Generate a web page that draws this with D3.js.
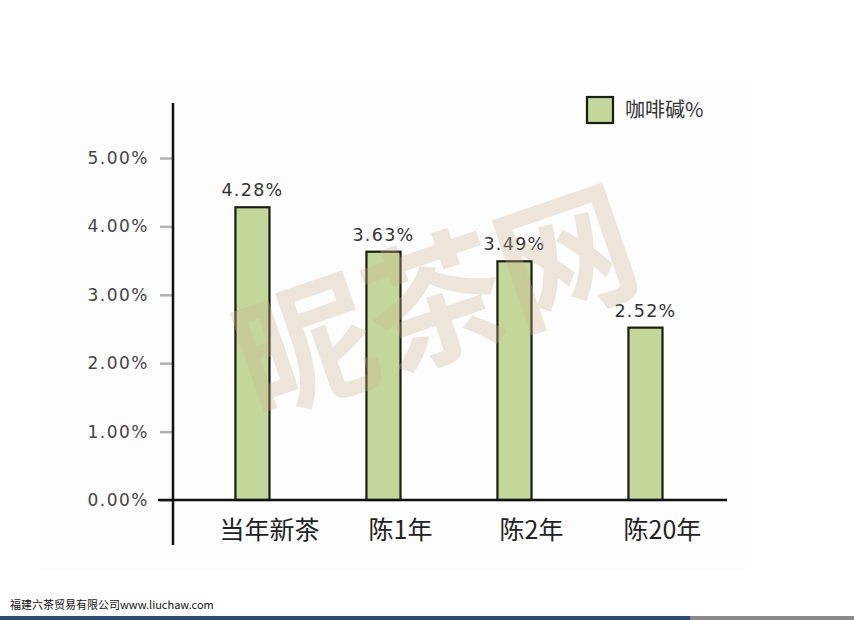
<!DOCTYPE html>
<html><head><meta charset="utf-8">
<script src="https://cdn.jsdelivr.net/npm/d3@7"></script>
<style>html,body{margin:0;padding:0;background:#fff;}svg{display:block;}</style>
</head><body>
<script>
const categories = ["当年新茶", "陈1年", "陈2年", "陈20年"];
const seriesNames = ["咖啡碱%", "其他"];
const caffeine = [4.28, 3.63, 3.49, 2.52];
const other = [0, 0, 0, 0];
const valueLabels = ["4.28%", "3.63%", "3.49%", "2.52%"];
const yTicks = [0, 1, 2, 3, 4, 5];
const yTickLabels = ["0.00%", "1.00%", "2.00%", "3.00%", "4.00%", "5.00%"];

const W = 854, H = 620;
const svg = d3.select("body").append("svg").attr("width", W).attr("height", H);

// faint panel
svg.append("rect").attr("x", 40).attr("y", 80).attr("width", 705).attr("height", 490).attr("fill", "#fdfdfd");

const y = d3.scaleLinear().domain([0, 5]).range([500, 158]);
const x0 = d3.scaleBand().domain(categories).range([204, 728]).paddingInner(0.48).paddingOuter(0.24);
const x1 = d3.scaleBand().domain(seriesNames).range([0, x0.bandwidth()]);
const colors = {"咖啡碱%": "#c4d79b", "其他": "none"};
const strokes = {"咖啡碱%": "#1c1c14", "其他": "#b0783a"};

// y axis ticks
const yAxis = d3.axisLeft(y).tickValues(yTicks).tickSize(12).tickPadding(11)
  .tickFormat((d, i) => yTickLabels[i]);
const ga = svg.append("g").attr("transform", "translate(172,0)").call(yAxis);
ga.select(".domain").remove();
ga.selectAll(".tick line").attr("stroke", "#b0b0b0").attr("stroke-width", 2.5);
ga.selectAll(".tick text").attr("font-family", "DejaVu Sans").attr("font-size", 17)
  .attr("fill", "#444").attr("letter-spacing", 1.5);

// bars
const groups = svg.append("g").selectAll("g").data(categories).join("g")
  .attr("transform", d => `translate(${x0(d)},0)`);
groups.append("rect")
  .attr("x", x1("咖啡碱%")).attr("width", x1.bandwidth())
  .attr("y", (d, i) => y(caffeine[i])).attr("height", (d, i) => y(0) - y(caffeine[i]))
  .attr("fill", colors["咖啡碱%"]).attr("stroke", strokes["咖啡碱%"]).attr("stroke-width", 2.2);
groups.append("rect")
  .attr("x", x1("其他")).attr("width", x1.bandwidth())
  .attr("y", (d, i) => y(other[i])).attr("height", (d, i) => y(0) - y(other[i]))
  .attr("fill", "none").attr("stroke", strokes["其他"]).attr("stroke-width", 1.5);

// value labels
groups.append("text")
  .attr("x", x1("咖啡碱%") + x1.bandwidth() / 2)
  .attr("y", (d, i) => y(caffeine[i]) - 11)
  .attr("text-anchor", "middle")
  .attr("font-family", "DejaVu Sans").attr("font-size", 17.5).attr("fill", "#333")
  .attr("letter-spacing", 1.3)
  .text((d, i) => valueLabels[i]);

// x axis line
svg.append("line").attr("x1", 158).attr("x2", 727).attr("y1", y(0)).attr("y2", y(0))
  .attr("stroke", "#111").attr("stroke-width", 2.5);
// y axis line
svg.append("line").attr("x1", 173).attr("x2", 173).attr("y1", y(5) - 55).attr("y2", y(0) + 45)
  .attr("stroke", "#111").attr("stroke-width", 2.5);

// category labels
svg.append("g").selectAll("text").data(categories).join("text")
  .attr("x", d => x0(d) + x0.bandwidth() / 2)
  .attr("y", 539)
  .attr("text-anchor", "middle")
  .attr("font-family", "Noto Sans CJK SC").attr("font-size", 25).attr("fill", "#222")
  .text(d => d);

// legend
const lg = svg.append("g").attr("transform", "translate(587,97)");
lg.append("rect").attr("width", 26).attr("height", 26)
  .attr("fill", colors["咖啡碱%"]).attr("stroke", "#1c1c14").attr("stroke-width", 2.2);
lg.append("text").attr("x", 38).attr("y", 20)
  .attr("font-family", "Noto Sans CJK SC").attr("font-size", 20).attr("fill", "#333")
  .text(seriesNames[0]);

// watermark (semi-transparent, over the chart)
svg.append("text")
  .attr("transform", "translate(452,350) rotate(-19)")
  .attr("text-anchor", "middle")
  .attr("font-family", "Noto Sans CJK SC")
  .attr("font-weight", "bold")
  .attr("font-size", 138)
  .attr("fill", "rgba(205,175,140,0.30)")
  .text("昵茶网");

// footer
svg.append("text").attr("x", 10).attr("y", 609)
  .attr("font-family", "Noto Sans CJK SC").attr("font-size", 11).attr("fill", "#111")
  .text("福建六茶贸易有限公司www.liuchaw.com");
svg.append("rect").attr("x", 0).attr("y", 616).attr("width", 690).attr("height", 4).attr("fill", "#2d4b6e");
svg.append("rect").attr("x", 690).attr("y", 616).attr("width", 164).attr("height", 4).attr("fill", "#8a8a8a");
</script>
</body></html>
